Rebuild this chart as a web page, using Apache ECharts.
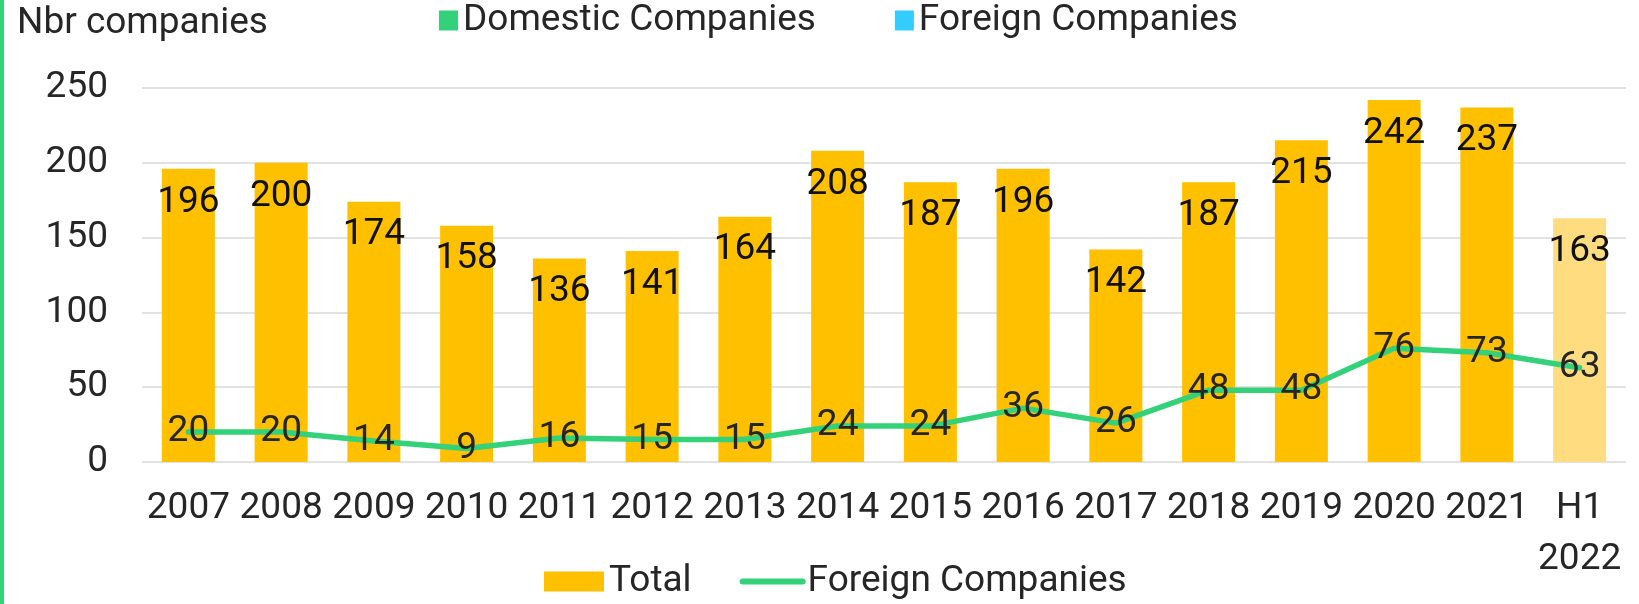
<!DOCTYPE html>
<html>
<head>
<meta charset="utf-8">
<script src="https://cdn.jsdelivr.net/npm/echarts@6/dist/echarts.min.js"></script>
<style>
html, body { margin: 0; padding: 0; background: #fff; }
#chart { width: 1639px; height: 604px; }
</style>
</head>
<body>
<div id="chart"></div>
<script>
var years = ['2007', '2008', '2009', '2010', '2011', '2012', '2013', '2014',
  '2015', '2016', '2017', '2018', '2019', '2020', '2021', 'H1\n2022']
var total = [196, 200, 174, 158, 136, 141, 164, 208, 187, 196, 142, 187, 215, 242, 237, 163]
var foreign = [20, 20, 14, 9, 16, 15, 15, 24, 24, 36, 26, 48, 48, 76, 73, 63]
var yTicks = [0, 50, 100, 150, 200, 250]

var GOLD = '#FFC000'
var GOLD_LIGHT = '#FFDC7F'
var GREEN = '#33D17A'
var CYAN = '#33CCFF'
var TXT = '#262626'
var FONT = 'Roboto'
var FS = 37

// top legend shows two entries that have no marks in the plot
var legendNames = { dom: 'Domestic Companies', forTop: 'Foreign Companies' }

var chart = echarts.init(document.getElementById('chart'))
chart.setOption({
  animation: false,
  textStyle: { fontFamily: FONT, color: TXT },
  title: {
    text: 'Nbr companies', left: 17, top: 5, padding: 0,
    textStyle: { fontFamily: FONT, fontSize: FS, fontWeight: 'normal', color: TXT }
  },
  graphic: [{
    type: 'rect', left: 0, top: 0,
    shape: { width: 4, height: 604 },
    style: { fill: GREEN }
  }],
  legend: [{
    data: [{ name: 'dom', icon: 'rect' }, { name: 'forTop', icon: 'rect' }],
    formatter: function (n) { return legendNames[n] },
    left: 439, top: 2, padding: 0, itemWidth: 19, itemHeight: 20, itemGap: 79,
    textStyle: { fontFamily: FONT, fontSize: FS, color: TXT }
  }, {
    data: [
      { name: 'Total', icon: 'rect' },
      { name: 'Foreign Companies', itemStyle: { opacity: 0 },
        lineStyle: { width: 6, cap: 'round', color: GREEN } }
    ],
    left: 544, top: 563, padding: 0, itemWidth: 60, itemHeight: 20, itemGap: 48,
    textStyle: { fontFamily: FONT, fontSize: FS, color: TXT }
  }],
  grid: { left: 142, right: 13, top: 88, bottom: 142 },
  xAxis: {
    type: 'category', data: years,
    axisLine: { show: false }, axisTick: { show: false },
    axisLabel: { fontSize: FS, color: TXT, margin: 21, lineHeight: 51, interval: 0 }
  },
  yAxis: {
    type: 'value', min: yTicks[0], max: yTicks[yTicks.length - 1], interval: 50,
    axisLine: { show: false }, axisTick: { show: false },
    axisLabel: { fontSize: FS, color: TXT, margin: 34 },
    splitLine: { lineStyle: { color: '#D9D9D9', width: 1.5 } }
  },
  series: [{
    name: 'Total', type: 'bar', barWidth: 53,
    itemStyle: { color: GOLD },
    data: total.map(function (v, i) {
      return i === total.length - 1 ? { value: v, itemStyle: { color: GOLD_LIGHT } } : v
    }),
    label: { show: true, position: 'insideTop', distance: 15, fontSize: FS, color: '#111' }
  }, {
    name: 'Foreign Companies', type: 'line', data: foreign,
    symbol: 'circle', symbolSize: 1, color: GREEN,
    lineStyle: { color: GREEN, width: 5.5, cap: 'round' },
    label: { show: true, position: 'inside', fontSize: FS, color: TXT }
  }, {
    name: 'dom', type: 'line', data: [], color: GREEN
  }, {
    name: 'forTop', type: 'line', data: [], color: CYAN
  }]
})
</script>
</body>
</html>
